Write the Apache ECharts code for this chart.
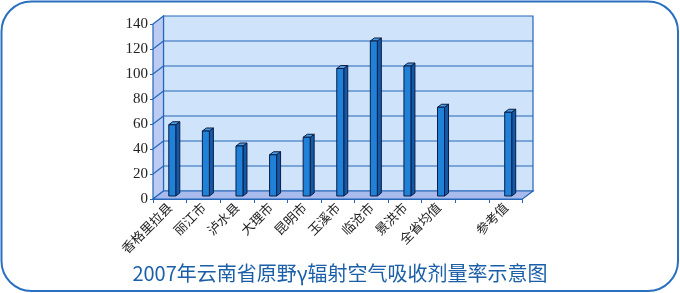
<!DOCTYPE html>
<html><head><meta charset="utf-8">
<script src="https://cdn.jsdelivr.net/npm/echarts@6/dist/echarts.min.js"></script>
<style>html,body{margin:0;padding:0;background:#fff}#c{width:680px;height:293px}</style>
</head><body><div id="c"></div>
<script>
var categories = ['香格里拉县','丽江市','泸水县','大理市','昆明市','玉溪市','临沧市','景洪市','全省均值','','参考值'];
var values = [57, 52, 40, 33, 47, 102, 124, 104, 71, null, 67];
var yTicks = [0, 20, 40, 60, 80, 100, 120, 140];
var titleText = '2007年云南省原野γ辐射空气吸收剂量率示意图';

var DX = 10.5, DY = -8;
var chart = echarts.init(document.getElementById('c'));

var barData = [];
for (var i = 0; i < values.length; i++) {
  if (values[i] !== null) barData.push([i, values[i]]);
}

function wallsRender(params, api) {
  var n = categories.length;
  var bw = api.size([1, 0])[0];
  var c0 = api.coord([0, 0]);
  var cN = api.coord([n - 1, 0]);
  var x0 = c0[0] - bw / 2, x1 = cN[0] + bw / 2;
  var yb = c0[1];
  var yt = api.coord([0, yTicks[yTicks.length - 1]])[1];
  var line = '#2566b8';
  var children = [];
  children.push({type: 'polygon', shape: {points: [[x0 + DX, yt + DY], [x1 + DX, yt + DY], [x1 + DX, yb + DY], [x0 + DX, yb + DY]]},
    style: {fill: '#cfe4fb', stroke: line, lineWidth: 1.2}});
  children.push({type: 'polygon', shape: {points: [[x0, yt], [x0 + DX, yt + DY], [x0 + DX, yb + DY], [x0, yb]]},
    style: {fill: '#bccbf3', stroke: line, lineWidth: 1.2}});
  children.push({type: 'polygon', shape: {points: [[x0, yb], [x0 + DX, yb + DY], [x1 + DX, yb + DY], [x1, yb]]},
    style: {fill: '#a9bbec', stroke: line, lineWidth: 1.2}});
  for (var k = 1; k < yTicks.length - 1; k++) {
    var y = api.coord([0, yTicks[k]])[1];
    children.push({type: 'line', shape: {x1: x0 + DX, y1: y + DY, x2: x1 + DX, y2: y + DY}, style: {stroke: line, lineWidth: 1.2}});
    children.push({type: 'line', shape: {x1: x0, y1: y, x2: x0 + DX, y2: y + DY}, style: {stroke: line, lineWidth: 1.2}});
  }
  return {type: 'group', children: children};
}

function barRender(params, api) {
  var idx = api.value(0), v = api.value(1);
  var top = api.coord([idx, v]);
  var base = api.coord([idx, 0]);
  var sx = 2.5, sy = -3;
  var w = 7, sd = 4, sdy = -3;
  var xl = top[0] + sx - w / 2, xr = xl + w;
  var yt = top[1] + sy, yb = base[1] + sy;
  var stroke = '#0b1d45';
  return {type: 'group', children: [
    {type: 'polygon', shape: {points: [[xr, yt], [xr + sd, yt + sdy], [xr + sd, yb + sdy], [xr, yb]]},
      style: {fill: '#1459a8', stroke: stroke, lineWidth: 1}},
    {type: 'polygon', shape: {points: [[xl, yt], [xl + sd, yt + sdy], [xr + sd, yt + sdy], [xr, yt]]},
      style: {fill: '#4a9de2', stroke: stroke, lineWidth: 1}},
    {type: 'rect', shape: {x: xl, y: yt, width: w, height: yb - yt},
      style: {fill: '#1f82d8', stroke: stroke, lineWidth: 1}}
  ]};
}

chart.setOption({
  animation: false,
  backgroundColor: '#ffffff',
  title: {
    text: titleText, left: 'center', top: 258,
    textStyle: {color: '#1a5fa8', fontSize: 20, fontWeight: 'normal', fontFamily: 'Noto Sans CJK SC'}
  },
  graphic: [{
    type: 'rect', silent: true, z: 100,
    shape: {x: 1.5, y: 1.5, width: 676.5, height: 289.5, r: 30},
    style: {fill: 'none', stroke: '#2a6fc0', lineWidth: 2}
  }],
  grid: {left: 153, top: 24, width: 369.5, height: 175, containLabel: false},
  xAxis: {
    type: 'category', data: categories, boundaryGap: true,
    axisLine: {show: true, lineStyle: {color: '#2566b8', width: 1.2}},
    axisTick: {show: true, length: 4, lineStyle: {color: '#2566b8'}},
    axisLabel: {rotate: 45, interval: 0, margin: 6, color: '#222', fontSize: 13, fontFamily: 'Noto Sans CJK SC'},
    splitLine: {show: false}
  },
  yAxis: {
    type: 'value', min: 0, max: 140, interval: 20,
    axisLine: {show: false},
    axisTick: {show: true, length: 3, lineStyle: {color: '#2566b8'}},
    axisLabel: {color: '#222', fontSize: 15, margin: 5, fontFamily: 'Liberation Serif'},
    splitLine: {show: false}
  },
  series: [
    {type: 'custom', name: 'walls', renderItem: wallsRender, data: [[0, 0]], z: 1, silent: true, clip: false},
    {type: 'custom', name: 'bars', renderItem: barRender, data: barData, z: 5, clip: false}
  ]
});
</script></body></html>
